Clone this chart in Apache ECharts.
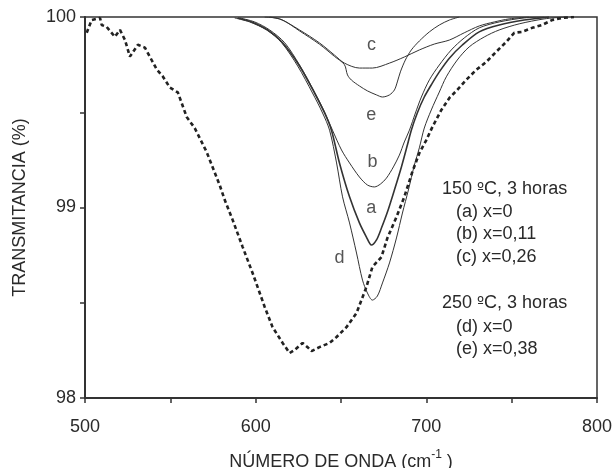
<!DOCTYPE html>
<html>
<head>
<meta charset="utf-8">
<script src="https://cdn.jsdelivr.net/npm/echarts@6/dist/echarts.min.js"></script>
<style>html,body{margin:0;padding:0;background:#fff}#c{width:614px;height:468px}</style>
</head>
<body>
<div id="c"></div>
<script>
// Wavenumber (cm-1) vs transmittance (%) pairs
const curveDashed = [[501.0,99.917],[503.9,99.984],[508.8,99.995],[509.8,99.958],[512.7,99.948],[517.5,99.896],[520.5,99.932],[523.4,99.880],[526.3,99.792],[531.0,99.854],[535.1,99.839],[542.1,99.724],[545.6,99.688],[549.7,99.630],[554.4,99.604],[559.6,99.475],[564.3,99.417],[571.3,99.291],[578.9,99.118],[581.9,99.039],[586.5,98.935],[592.4,98.792],[598.2,98.656],[605.3,98.478],[609.9,98.372],[615.8,98.289],[619.9,98.236],[622.8,98.252],[627.5,98.289],[630.4,98.267],[632.7,98.246],[637.4,98.267],[643.3,98.289],[647.4,98.320],[653.2,98.372],[659.1,98.446],[664.9,98.583],[668.4,98.688],[673.7,98.740],[677.2,98.840],[682.5,98.950],[687.1,99.056],[691.8,99.187],[695.9,99.286],[700.0,99.354],[703.5,99.422],[708.8,99.512],[713.5,99.575],[718.1,99.617],[723.4,99.670],[729.2,99.722],[735.1,99.764],[740.9,99.817],[746.8,99.869],[751.5,99.917],[756.1,99.922],[762.0,99.943],[767.8,99.958],[773.7,99.984],[779.5,99.995],[786.5,100.0]];
const curveA = [[589.5,99.995],[597.7,99.974],[607.0,99.932],[615.8,99.865],[625.7,99.743],[634.5,99.601],[640.4,99.496],[644.4,99.406],[649.1,99.234],[655.0,99.056],[660.8,98.919],[664.9,98.845],[667.8,98.803],[670.8,98.830],[673.7,98.892],[677.2,98.976],[681.3,99.092],[685.4,99.213],[688.9,99.328],[691.2,99.406],[694.7,99.496],[698.8,99.580],[703.5,99.653],[707.6,99.712],[713.5,99.784],[721.1,99.853],[731.0,99.922],[742.7,99.958],[757.3,99.984],[771.9,100]];
const curveB = [[590.6,99.995],[599.4,99.974],[608.2,99.932],[617.0,99.865],[625.7,99.748],[634.5,99.606],[640.4,99.501],[645.0,99.406],[650.3,99.302],[655.0,99.234],[660.8,99.160],[665.5,99.118],[669.6,99.108],[673.1,99.123],[676.6,99.154],[680.7,99.213],[684.2,99.275],[687.1,99.344],[690.1,99.406],[693.6,99.496],[697.1,99.580],[701.8,99.670],[707.6,99.748],[714.6,99.827],[722.2,99.890],[731.0,99.943],[742.7,99.974],[757.3,99.995],[769.0,100]];
const curveC = [[605.3,100],[614.0,99.990],[625.7,99.932],[637.4,99.864],[646.2,99.800],[652.0,99.758],[660.8,99.732],[668.4,99.732],[678.4,99.758],[687.1,99.790],[695.9,99.827],[704.7,99.858],[713.5,99.879],[722.2,99.917],[731.0,99.953],[739.8,99.974],[748.5,99.990],[760.2,100]];
const curveDeep = [[587.7,99.995],[596.5,99.974],[606.4,99.932],[615.2,99.865],[624.6,99.743],[633.3,99.601],[639.2,99.496],[643.3,99.406],[647.4,99.234],[650.9,99.056],[655.0,98.919],[659.1,98.761],[662.6,98.619],[665.5,98.551],[668.4,98.514],[671.3,98.535],[674.3,98.604],[678.4,98.709],[682.5,98.840],[686.0,98.971],[689.5,99.092],[693.0,99.223],[695.9,99.313],[698.8,99.417],[702.9,99.512],[707.6,99.606],[711.7,99.686],[718.1,99.774],[725.1,99.843],[733.9,99.895],[742.7,99.932],[754.4,99.964],[769.0,99.990],[780.7,100]];
const curveE = [[608.2,100],[615.8,99.984],[625.7,99.927],[637.4,99.857],[646.2,99.793],[652.0,99.750],[653.8,99.696],[656.1,99.669],[660.8,99.638],[665.5,99.612],[670.8,99.591],[674.3,99.580],[678.4,99.591],[681.3,99.617],[683.0,99.659],[684.8,99.712],[687.7,99.774],[691.2,99.827],[695.9,99.874],[701.8,99.922],[707.6,99.958],[713.5,99.984],[719.3,100]];
const curveLabels = [['c',667.8,99.854],['e',667.8,99.486],['b',668.4,99.239],['a',667.8,98.997],['d',649.1,98.735]];
const legendLines = ['150 {o|º}C, 3 horas','(a) x=0','(b) x=0,11','(c) x=0,26','','250 {o|º}C, 3 horas','(d) x=0','(e) x=0,38'];
const yTickLabels = [98, 99, 100];
const xTickLabels = [500, 600, 700, 800];

const FONT = '"Liberation Sans", Arial, Helvetica, sans-serif';
const INK = '#2a2a2a';
const FS = 18;
const chart = echarts.init(document.getElementById('c'), null, {renderer: 'canvas'});

function thin(data, w) {
  return {type: 'line', data: data, showSymbol: false, symbol: 'none', smooth: 0.3,
    lineStyle: {color: '#333', width: w}, clip: true, z: 3};
}

const legendGraphics = [];
const legendIndent = [0, 14, 14, 14, 0, 0, 14, 14];
const legendY = [190, 213, 235.5, 258, 0, 304.5, 328, 350.5];
legendLines.forEach((t, i) => {
  if (!t) return;
  legendGraphics.push({type: 'text', left: 442 + legendIndent[i], top: legendY[i] - 10,
    style: {text: t, fontFamily: FONT, fontSize: FS, fill: INK,
      rich: {o: {fontFamily: '"DejaVu Sans", sans-serif', fontSize: 15, fill: INK}}}});
});

chart.setOption({
  backgroundColor: '#fff',
  animation: false,
  grid: {left: 85, right: 17, top: 17, bottom: 70, show: true, borderColor: '#333', borderWidth: 1.5,
    containLabel: false, outerBoundsMode: 'none'},
  xAxis: {
    type: 'value', min: 500, max: 800, interval: 50,
    name: '{a|NÚMERO DE ONDA (cm}{s|-1}{a| )}', nameLocation: 'middle', nameGap: 51,
    nameTextStyle: {rich: {
      a: {fontFamily: FONT, fontSize: FS, color: INK, lineHeight: 22, verticalAlign: 'bottom'},
      s: {fontFamily: FONT, fontSize: 12, color: INK, lineHeight: 22, verticalAlign: 'top', padding: [0, 0, 10, 0]}
    }},
    axisLine: {lineStyle: {color: '#333', width: 2}},
    axisTick: {show: true, inside: false, length: 5, lineStyle: {color: '#333', width: 1.5}},
    axisLabel: {margin: 20, fontFamily: FONT, fontSize: FS, color: INK,
      formatter: v => xTickLabels.includes(v) ? String(v) : ''},
    splitLine: {show: false}
  },
  yAxis: {
    type: 'value', min: 98, max: 100, interval: 0.5,
    name: 'TRANSMITANCIA (%)', nameLocation: 'middle', nameGap: 56, nameRotate: 90,
    nameTextStyle: {fontFamily: FONT, fontSize: FS, color: INK},
    axisLine: {show: true, lineStyle: {color: '#333', width: 2}},
    axisTick: {show: true, inside: false, length: 5, lineStyle: {color: '#333', width: 1.5}},
    axisLabel: {margin: 9, fontFamily: FONT, fontSize: FS, color: INK,
      formatter: v => yTickLabels.includes(v) ? String(v) : ''},
    splitLine: {show: false}
  },
  series: [
    {type: 'line', data: curveDashed, showSymbol: false, symbol: 'none', smooth: false,
      lineStyle: {color: '#222', width: 2.6, type: [4, 3]}, z: 4},
    thin(curveC, 1), thin(curveE, 1), thin(curveB, 1), thin(curveA, 1.6), thin(curveDeep, 1),
    {type: 'scatter', symbolSize: 0, data: curveLabels.map(l => ({name: l[0], value: [l[1], l[2]]})),
      label: {show: true, position: 'inside', formatter: p => p.name, fontFamily: FONT, fontSize: FS, color: INK},
      z: 5, silent: true}
  ],
  graphic: legendGraphics
});
</script>
</body>
</html>
